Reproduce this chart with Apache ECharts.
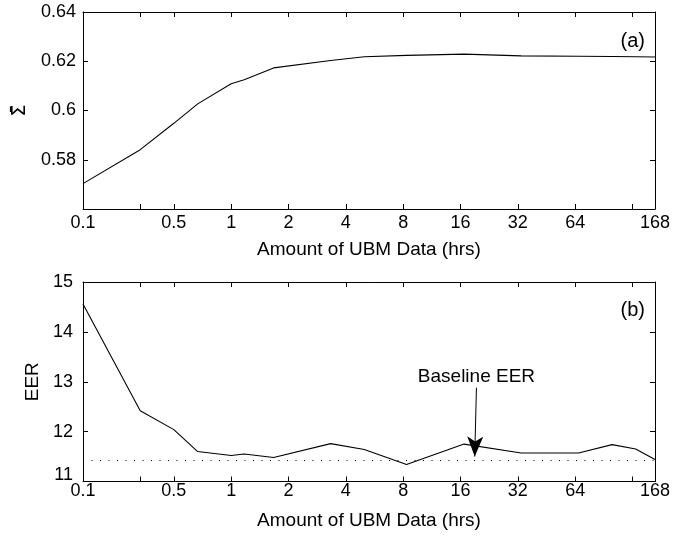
<!DOCTYPE html>
<html>
<head>
<meta charset="utf-8">
<script src="https://cdn.jsdelivr.net/npm/echarts@6/dist/echarts.min.js"></script>
<style>html,body{margin:0;padding:0;background:#fff}#c{width:689px;height:538px}</style>
</head>
<body>
<div id="c"></div>
<script>
// ---- data (hours of UBM data) ----
const hours = [0.1667, 0.333, 0.5, 0.667, 1, 1.17, 1.67, 3.33, 5, 8.33, 16.7, 33.3, 66.7, 100, 133, 168];
const sigmaValues = [0.5703, 0.5841, 0.5948, 0.6027, 0.6109, 0.6125, 0.6173, 0.6203, 0.6218, 0.6224, 0.6229, 0.6222, 0.6220, 0.6219, 0.6218, 0.6217];
const eerValues = [14.56, 12.42, 12.04, 11.60, 11.52, 11.55, 11.48, 11.76, 11.64, 11.34, 11.75, 11.57, 11.57, 11.74, 11.65, 11.44];
const baselineEER = 11.42;
const tickHours = [0.1667, 0.3333, 0.5, 1, 2, 4, 8, 16, 32, 64, 128, 168];
const labelHours = [0.1667, 0.5, 1, 2, 4, 8, 16, 32, 64, 168];
const labelTexts = ['0.1', '0.5', '1', '2', '4', '8', '16', '32', '64', '168'];
const arrowFrom = [19.4, 12.88];
const arrowTo = [19.0, 11.50];
const annotationPos = [19.4, 13.09];
const annotationText = 'Baseline EER';

const FONT = 'Liberation Sans, Arial, Helvetica, sans-serif';
function fmtX(v) {
  let best = 0, bd = Infinity;
  labelHours.forEach((h, i) => { const d = Math.abs(Math.log(v) - Math.log(h)); if (d < bd) { bd = d; best = i; } });
  return bd < 0.05 ? labelTexts[best] : '';
}
function xAxes(gridIndex, labelMargin, nameGap) {
  return [{
    type: 'log', logBase: 2, gridIndex, min: 0.1667, max: 168, position: 'bottom',
    axisLine: { show: true, lineStyle: { color: '#000', width: 1 } },
    axisTick: { show: true, inside: true, length: 5, customValues: tickHours, lineStyle: { color: '#000' } },
    axisLabel: { show: true, customValues: labelHours, formatter: fmtX, margin: labelMargin, color: '#000', fontSize: 18, fontFamily: FONT },
    splitLine: { show: false }, minorTick: { show: false },
    name: 'Amount of UBM Data (hrs)', nameLocation: 'middle', nameGap: nameGap,
    nameTextStyle: { color: '#000', fontSize: 19, fontFamily: FONT }
  }, {
    type: 'log', logBase: 2, gridIndex, min: 0.1667, max: 168, position: 'top',
    axisLine: { show: true, lineStyle: { color: '#000', width: 1 } },
    axisTick: { show: true, inside: true, length: 5, customValues: tickHours, lineStyle: { color: '#000' } },
    axisLabel: { show: false }, splitLine: { show: false }
  }];
}
function yAxes(gridIndex, min, max, interval, labelFmt, labelMargin, name, nameGap, nameStyle) {
  return [{
    type: 'value', gridIndex, min, max, interval, position: 'left',
    axisLine: { show: true, lineStyle: { color: '#000', width: 1 } },
    axisTick: { show: true, inside: true, length: 5, lineStyle: { color: '#000' } },
    axisLabel: {
      formatter: labelFmt, margin: labelMargin, color: '#000', fontSize: 18, fontFamily: FONT,
      rich: { up: { fontSize: 18, fontFamily: FONT, color: '#000', padding: [0, 0, 12, 0] } }
    },
    splitLine: { show: false },
    name, nameLocation: 'middle', nameGap, nameRotate: 90,
    nameTextStyle: nameStyle
  }, {
    type: 'value', gridIndex, min, max, interval, position: 'right',
    axisLine: { show: true, lineStyle: { color: '#000', width: 1 } },
    axisTick: { show: true, inside: true, length: 5, lineStyle: { color: '#000' } },
    axisLabel: { show: false }, splitLine: { show: false }
  }];
}

const option = {
  animation: false,
  backgroundColor: '#fff',
  grid: [
    { left: 83, right: 34, top: 12, height: 197 },
    { left: 83, right: 34, top: 282, height: 199.5 }
  ],
  xAxis: [...xAxes(0, 5, 31), ...xAxes(1, 1, 30)],
  yAxis: [
    ...yAxes(0, 0.56, 0.64, 0.02, v => (v < 0.565 ? '' : String(+v.toFixed(2))), 7, 'Σ\u0304', 53,
      { color: '#000', fontSize: 19, fontFamily: 'DejaVu Sans, sans-serif' }),
    ...yAxes(1, 11, 15, 1, v => (v === 11 ? '{up|11}' : String(v)), 10, 'EER', 40,
      { color: '#000', fontSize: 19, fontFamily: FONT })
  ],
  series: [
    {
      type: 'line', xAxisIndex: 0, yAxisIndex: 0, showSymbol: false, symbol: 'none',
      data: hours.map((h, i) => [h, sigmaValues[i]]),
      lineStyle: { color: '#000', width: 1.1 }
    },
    {
      type: 'line', xAxisIndex: 2, yAxisIndex: 2, showSymbol: false, symbol: 'none',
      data: hours.map((h, i) => [h, eerValues[i]]),
      lineStyle: { color: '#000', width: 1.1 },
      markLine: {
        silent: true, symbol: ['none', 'none'], label: { show: false },
        lineStyle: { color: '#000', width: 1, type: [1, 7.5] },
        data: [{ yAxis: baselineEER }]
      }
    },
    {
      type: 'line', xAxisIndex: 2, yAxisIndex: 2, data: [], symbol: 'none',
      markLine: {
        silent: true, symbol: ['none', 'arrow'], symbolSize: [12, 20], label: { show: false },
        lineStyle: { color: '#000', width: 1, type: 'solid' },
        itemStyle: { color: '#000' },
        data: [[{ coord: arrowFrom }, { coord: arrowTo }]]
      },
      markPoint: {
        silent: true, symbol: 'circle', symbolSize: 0,
        label: { show: true, position: 'inside', formatter: annotationText, color: '#000', fontSize: 19, fontFamily: FONT },
        data: [{ coord: annotationPos }]
      }
    }
  ],
  graphic: [
    { type: 'text', right: 44, top: 31, style: { text: '(a)', fill: '#000', font: '20px ' + FONT } },
    { type: 'text', right: 44, top: 300, style: { text: '(b)', fill: '#000', font: '20px ' + FONT } }
  ]
};
const chart = echarts.init(document.getElementById('c'), null, { renderer: 'canvas' });
chart.setOption(option);
</script>
</body>
</html>
